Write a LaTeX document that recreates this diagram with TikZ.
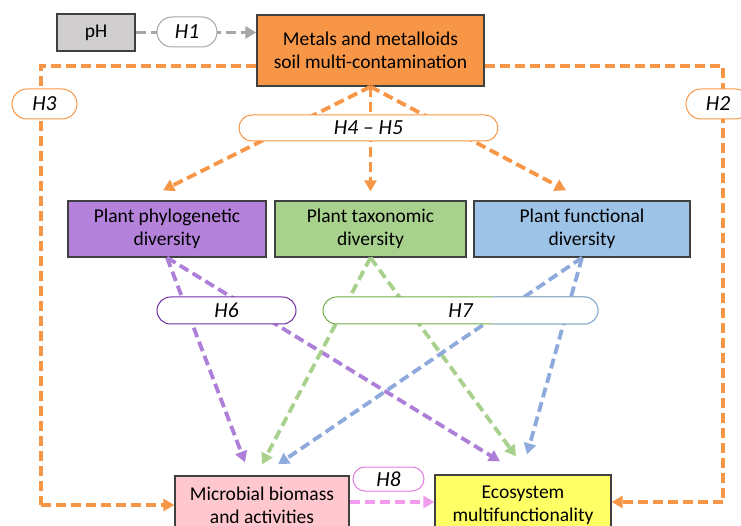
\documentclass[tikz,border=0pt]{standalone}
\usepackage{fontspec}
\setmainfont{Carlito}
\usetikzlibrary{arrows.meta,calc,shapes.misc}
\definecolor{orng}{HTML}{F79646}
\definecolor{gryfill}{HTML}{D0CECE}
\definecolor{gryline}{HTML}{A6A6A6}
\definecolor{purp}{HTML}{B482DA}
\definecolor{purpline}{HTML}{AE7FD9}
\definecolor{purpedge}{HTML}{7030A0}
\definecolor{grn}{HTML}{A9D18E}
\definecolor{grnedge}{HTML}{70AD47}
\definecolor{blu}{HTML}{9DC3E6}
\definecolor{bluline}{HTML}{8EA9DB}
\definecolor{pnk}{HTML}{FFC7CE}
\definecolor{pnkline}{HTML}{F29CEE}
\definecolor{pnkedge}{HTML}{E07BE0}
\definecolor{yel}{HTML}{FFFF66}
\begin{document}
\begin{tikzpicture}[x=1pt,y=-1pt,
	box/.style={draw=black!75,line width=1.3pt,align=center,inner sep=0pt,font=\fontsize{19.5}{23}\selectfont},
	pill/.style={rounded rectangle,fill=white,line width=1pt,inner sep=0pt,font=\fontsize{21.5}{23}\selectfont\itshape},
	link/.style={dashed,dash pattern=on 10pt off 5pt,line width=3.8pt,-{Triangle[length=11pt,width=12pt]}}]
	\useasboundingbox (0,0) rectangle (741,526);
	\clip (0,0) rectangle (741,526);
	% boxes
	\node[box,fill=gryfill,minimum width=78,minimum height=37] (ph) at (96,32.5) {pH};
	\node[box,fill=orng,minimum width=227,minimum height=71] (metals) at (370.5,50.5) {Metals and metalloids\\soil multi-contamination};
	\node[box,fill=purp,minimum width=198,minimum height=56] (phylo) at (167,229) {Plant phylogenetic\\diversity};
	\node[box,fill=grn,minimum width=191,minimum height=56] (taxo) at (370.5,229) {Plant taxonomic\\diversity};
	\node[box,fill=blu,minimum width=216,minimum height=56] (func) at (582,229) {Plant functional\\diversity};
	\node[box,fill=pnk,minimum width=174,minimum height=58] (micro) at (262,505) {Microbial biomass\\and activities};
	\node[box,fill=yel,minimum width=176,minimum height=60] (eco) at (523,505) {Ecosystem\\multifunctionality};
	% links
	\draw[link,gryline,line width=3pt] (ph.east) -- (ph.east -| metals.west);
	\draw[link,orng,-] ($(metals.west)+(0,15.5)$) -| ($(micro.west)+(-133,0)$);
	\draw[link,orng] ($(micro.west)+(-133,0)$) -- (micro.west);
	\draw[link,orng,-] ($(metals.east)+(0,15.5)$) -| ($(eco.east)+(111,-3)$);
	\draw[link,orng] ($(eco.east)+(111,-3)$) -- ($(eco.east)+(0,-3)$);
	\draw[link,orng] (metals.south) -- ($(phylo.north)+(-4,-10)$);
	\draw[link,orng] (metals.south) -- ($(taxo.north)+(0,-9)$);
	\draw[link,orng] (metals.south) -- ($(func.north)+(-16,-10)$);
	\draw[link,purpline] (phylo.south) -- ($(micro.north)+(-17,-13)$);
	\draw[link,purpline] (phylo.south) -- ($(eco.north)+(-23,-13)$);
	\draw[link,grn] (taxo.south) -- ($(micro.north)+(0,-11)$);
	\draw[link,grn] (taxo.south) -- ($(eco.north)+(-7,-18)$);
	\draw[link,bluline] (func.south) -- ($(micro.north)+(16,-11)$);
	\draw[link,bluline] (func.south) -- ($(eco.north)+(4,-20)$);
	\draw[link,pnkline] ($(micro.east)+(0,-3)$) -- ($(eco.west)+(0,-3)$);
	% hypothesis labels
	\node[pill,draw=gryline,minimum width=60,minimum height=30] (h1) at (187,32) {H1};
	\node[pill,draw=orng,minimum width=65,minimum height=30] (h3) at (44.5,104) {H3};
	\node[pill,draw=orng,minimum width=64,minimum height=30] (h2) at (718,104) {H2};
	\node[pill,draw=orng,minimum width=259,minimum height=26] (h45) at (368.5,128) {H4 -- H5};
	\node[pill,draw=purpedge,minimum width=139,minimum height=27] (h6) at (226.5,310.5) {H6};
	\node[pill,draw=grnedge,minimum width=275,minimum height=27] (h7) at (460.5,310.5) {H7};
	\begin{scope}
		\clip (493,290) rectangle (610,330);
		\node[pill,draw=bluline,minimum width=275,minimum height=27] at (460.5,310.5) {H7};
	\end{scope}
	\node[pill,draw=pnkedge,minimum width=71,minimum height=24] (h8) at (388.5,479) {H8};
\end{tikzpicture}
\end{document}
